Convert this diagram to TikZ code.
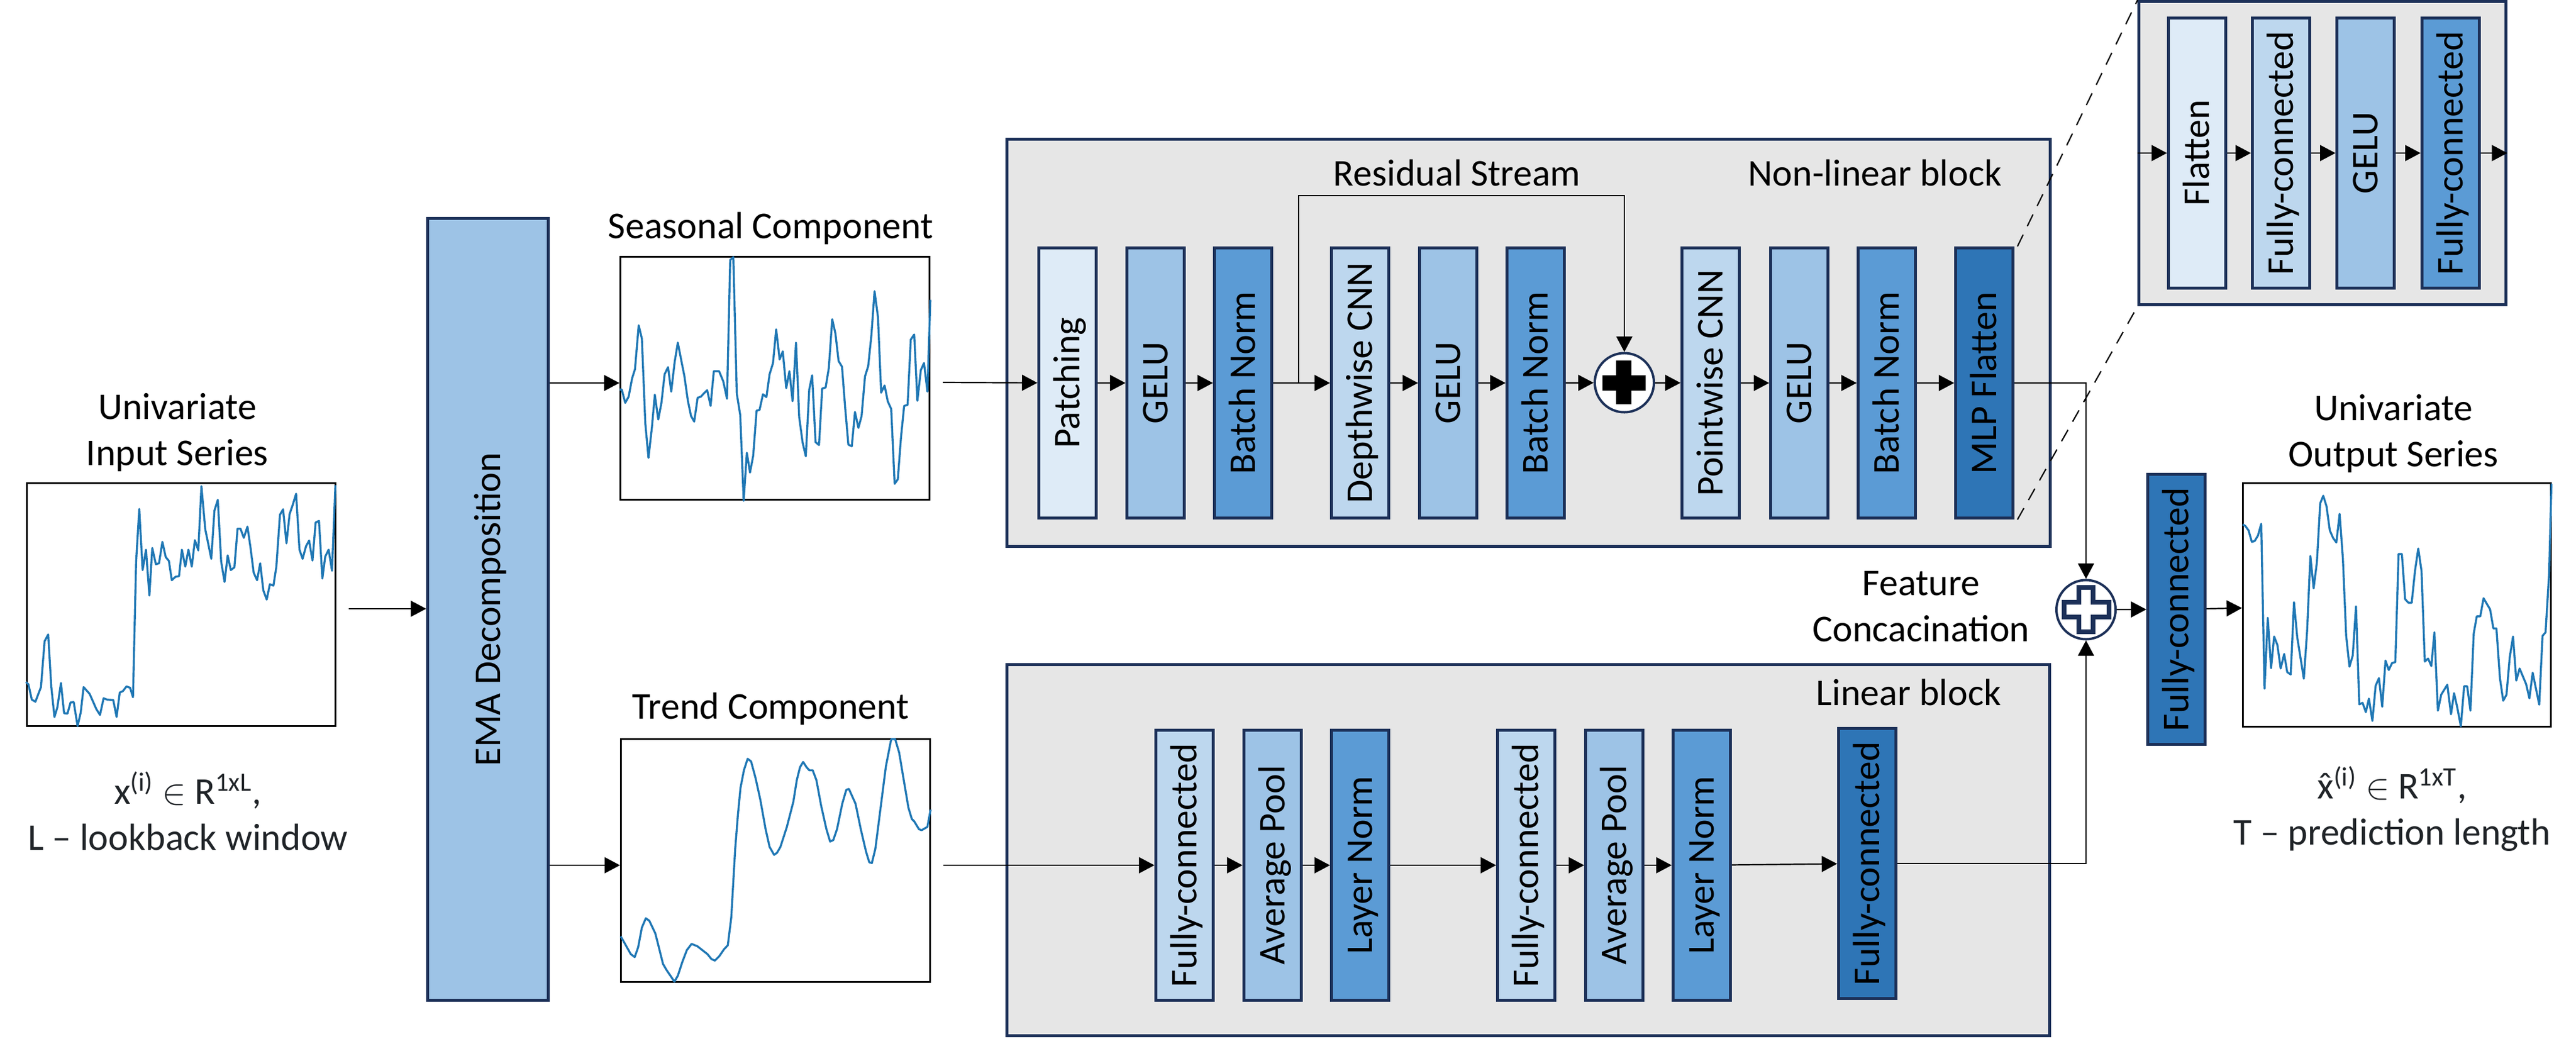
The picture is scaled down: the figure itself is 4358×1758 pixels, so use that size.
\documentclass[tikz,border=0pt]{standalone}
\usepackage{fontspec}
\setmainfont{Carlito}
\usetikzlibrary{arrows.meta,positioning}
\definecolor{navy}{HTML}{1C3058}
\definecolor{paleblue}{HTML}{DEEBF7}
\definecolor{lightblue}{HTML}{BDD7EE}
\definecolor{midblue}{HTML}{9DC3E6}
\definecolor{strongblue}{HTML}{5B9BD5}
\definecolor{deepblue}{HTML}{2E75B6}
\definecolor{blockgray}{HTML}{E6E6E6}
\definecolor{seriesblue}{HTML}{1F77B4}
\definecolor{notegray}{HTML}{202428}
\newcommand{\vtxt}[1]{\rotatebox{90}{\smash{#1}\vphantom{A}}}
\newcommand{\xhat}{\ooalign{x\cr\hidewidth\char"02C6\hidewidth\cr}}
\tikzset{
	every node/.style={font=\fontsize{18.2}{22.2}\selectfont},
	layerbox/.style={draw=navy,line width=.05cm,minimum width=.97cm,minimum height=4.57cm,inner sep=0pt},
	pale/.style={layerbox,fill=paleblue},
	light/.style={layerbox,fill=lightblue},
	mid/.style={layerbox,fill=midblue},
	strong/.style={layerbox,fill=strongblue},
	deep/.style={layerbox,fill=deepblue},
	block/.style={draw=navy,line width=.05cm,fill=blockgray,inner sep=0pt},
	plotbox/.style={draw=black,line width=.03cm,fill=white,inner sep=0pt},
	addnode/.style={circle,draw=navy,line width=.04cm,fill=white,minimum size=1cm,inner sep=0pt},
	arrow/.style={line width=.022cm,-{Triangle[length=.26cm,width=.27cm]}},
	series/.style={seriesblue,line width=.034cm,line join=round}
}

\begin{document}
\begin{tikzpicture}[x=.01cm,y=-.01cm]
	\useasboundingbox (0,0) rectangle (4358,1758);

	% grey blocks
	\node[block,minimum width=17.64cm,minimum height=6.89cm] (nonlinear) at (2585.5,580) {};
	\node[block,minimum width=17.63cm,minimum height=6.28cm] (linear) at (2585,1438.5) {};
	\node[block,minimum width=6.2cm,minimum height=5.13cm] (zoomblk) at (3929,259) {};

	% left part
	\node[plotbox,minimum width=5.22cm,minimum height=4.11cm] (input) at (306.5,1023) {};
	\node[mid,minimum width=2.04cm,minimum height=13.23cm] (ema) at (825.5,1031) {\vtxt{EMA Decomposition}};
	\node[plotbox,minimum width=5.23cm,minimum height=4.11cm] (seasonal) at (1311,640) {};
	\node[plotbox,minimum width=5.23cm,minimum height=4.11cm] (trend) at (1312,1456) {};
	\node[plotbox,minimum width=5.21cm,minimum height=4.12cm] (output) at (4055,1023.5) {};

	\node[align=center] (inlabel) at (300,732) {Univariate\\Input Series};
	\node[align=center,text=notegray] (innote) at (318,1372) {x\textsuperscript{(i)} $\in$ R\textsuperscript{1xL},\\L – lookback window};
	\node[anchor=base] (seaslabel) at (1304,403) {Seasonal Component};
	\node[anchor=base] (trendlabel) at (1304,1216) {Trend Component};
	\node[align=center] (outlabel) at (4049,734) {Univariate\\Output Series};
	\node[align=center,text=notegray] (outnote) at (4047,1369) {\xhat\textsuperscript{(i)} $\in$ R\textsuperscript{1xT},\\T – prediction length};

	% non-linear block
	\node[pale] (patch) at (1806,648) {\vtxt{Patching}};
	\node[mid] (gelu1) at (1955,648) {\vtxt{GELU}};
	\node[strong] (norm1) at (2103,648) {\vtxt{Batch Norm}};
	\node[light] (depth) at (2301,648) {\vtxt{Depthwise CNN}};
	\node[mid] (gelu2) at (2450,648) {\vtxt{GELU}};
	\node[strong] (norm2) at (2598,648) {\vtxt{Batch Norm}};
	\node[addnode] (resadd) at (2748,647.5) {};
	\node[light] (point) at (2894,648) {\vtxt{Pointwise CNN}};
	\node[mid] (gelu3) at (3044,648) {\vtxt{GELU}};
	\node[strong] (norm3) at (3192,648) {\vtxt{Batch Norm}};
	\node[deep] (mlp) at (3357,648) {\vtxt{MLP Flatten}};
	\node[anchor=base] (reslabel) at (2465,315) {Residual Stream};
	\node[anchor=base] (nllabel) at (3172,315) {Non-linear block};
	\fill (2734,610) rectangle (2760,684);
	\fill (2711,635) rectangle (2784,661);

	% linear block
	\node[light] (fc1) at (2004,1464) {\vtxt{Fully-connected}};
	\node[mid] (pool1) at (2153,1464) {\vtxt{Average Pool}};
	\node[strong] (lnorm1) at (2301,1464) {\vtxt{Layer Norm}};
	\node[light] (fc2) at (2582,1464) {\vtxt{Fully-connected}};
	\node[mid] (pool2) at (2731,1464) {\vtxt{Average Pool}};
	\node[strong] (lnorm2) at (2879,1464) {\vtxt{Layer Norm}};
	\node[deep] (fc3) at (3159,1461) {\vtxt{Fully-connected}};
	\node[anchor=base] (linlabel) at (3229,1193) {Linear block};

	% enlarged MLP
	\node[pale] (flat) at (3717,259) {\vtxt{Flatten}};
	\node[light] (fc4) at (3859,259) {\vtxt{Fully-connected}};
	\node[mid] (gelu4) at (4002,259) {\vtxt{GELU}};
	\node[strong] (fc5) at (4146,259) {\vtxt{Fully-connected}};

	% right part
	\node[addnode] (concat) at (3529,1031.5) {};
	\node[deep] (fcout) at (3682,1031) {\vtxt{Fully-connected}};
	\node[align=center] (conlabel) at (3250,1026) {Feature\\Concacination};
	\draw[navy,line width=.08cm,fill=white] (3517,994) -- (3541,994) -- (3541,1019) -- (3567.5,1019) -- (3567.5,1044) -- (3541,1044) -- (3541,1069) -- (3517,1069) -- (3517,1044) -- (3492,1044) -- (3492,1019) -- (3517,1019) -- cycle;

	% connectors
	\coordinate (inout) at (590,1030);
	\coordinate (seasout) at (1595,647);
	\coordinate (trendout) at (1596,1464);
	\coordinate (branch) at (2197,648);
	\coordinate (restop) at (2197,331);
	\draw[arrow] (inout) -- (ema.west |- inout);
	\draw[arrow] (ema.east |- patch) -- (seasonal.west |- patch);
	\draw[arrow] (ema.east |- fc1) -- (trend.west |- fc1);
	\draw[arrow] (seasout) -- (patch);
	\draw[arrow] (trendout) -- (fc1);
	\foreach \from/\to in {patch/gelu1,gelu1/norm1,norm1/depth,depth/gelu2,gelu2/norm2,norm2/resadd,resadd/point,point/gelu3,gelu3/norm3,norm3/mlp,fc1/pool1,pool1/lnorm1,lnorm1/fc2,fc2/pool2,pool2/lnorm2,lnorm2/fc3,flat/fc4,fc4/gelu4,gelu4/fc5,concat/fcout,fcout/output}
	\draw[arrow] (\from) -- (\to);
	\draw[arrow] (branch) -- (restop) -| (resadd.north);
	\draw[arrow] (mlp.east) -| (concat.north);
	\draw[arrow] (fc3.east) -| (concat.south);
	\draw[arrow] (zoomblk.west |- flat) -- (flat);
	\draw[arrow] (fc5) -- (zoomblk.east |- fc5);
	\draw[dashed,line width=.022cm,dash pattern=on .22cm off .16cm] ([xshift=.05cm]mlp.north east) -- (zoomblk.north west);
	\draw[dashed,line width=.022cm,dash pattern=on .22cm off .16cm] ([xshift=.05cm]mlp.south east) -- (zoomblk.south west);

	% series, typed in crop pixels
	\begin{scope}[shift={(0,600)},x=.00408cm,y=-.00574cm]
	\draw[series] plot coordinates {(108,965)(118,972)(132,1017)(147,1023)(170,980)(185,845)(200,825)(213,980)(226,1068)(238,1040)(253,968)(266,1057)(280,1058)(293,1025)(306,1024)(322,1095)(335,1055)(347,980)(372,1000)(400,1045)(415,1062)(430,1013)(445,1017)(470,1018)(484,1068)(497,996)(510,992)(525,978)(540,982)(552,1010)(565,610)(578,455)(592,635)(606,575)(620,710)(632,570)(647,618)(660,615)(674,552)(688,597)(701,608)(713,665)(728,655)(743,653)(755,575)(769,625)(782,575)(796,625)(809,547)(823,577)(836,388)(852,515)(877,602)(890,460)(904,428)(918,610)(932,670)(945,592)(958,635)(973,627)(986,513)(998,513)(1012,540)(1027,507)(1040,570)(1053,643)(1067,665)(1080,615)(1093,695)(1107,722)(1120,677)(1135,681)(1147,625)(1162,472)(1175,456)(1189,556)(1202,470)(1215,443)(1229,410)(1243,575)(1256,602)(1270,565)(1283,548)(1297,607)(1310,495)(1324,490)(1338,660)(1350,595)(1364,575)(1378,637)(1392,385)};
	\end{scope}
	\begin{scope}[shift={(1000,340)},x=.004464cm,y=-.003444cm]
	\draw[series] plot coordinates {(108,925)(116,925)(129,990)(142,960)(155,870)(166,825)(180,610)(192,675)(205,1090)(217,1260)(230,1110)(241,950)(254,1072)(266,990)(278,850)(291,815)(303,935)(316,790)(328,695)(340,775)(353,860)(366,980)(378,1055)(390,1082)(403,965)(415,960)(427,943)(439,928)(452,1005)(464,835)(484,835)(500,885)(514,970)(526,290)(538,275)(551,945)(564,1050)(577,1470)(589,1235)(601,1332)(613,1250)(626,1028)(637,1025)(650,948)(663,962)(675,850)(688,795)(700,630)(713,777)(725,738)(738,918)(750,835)(762,982)(775,695)(787,1060)(800,1185)(812,1252)(825,925)(836,855)(849,1183)(862,1197)(874,920)(887,915)(899,820)(912,580)(924,650)(936,785)(949,813)(961,1015)(973,1195)(986,1203)(998,1035)(1011,1113)(1023,1055)(1036,860)(1048,810)(1060,660)(1072,443)(1085,570)(1097,940)(1110,905)(1122,983)(1135,1020)(1148,1387)(1160,1365)(1172,1160)(1184,1005)(1197,1000)(1209,680)(1222,655)(1234,980)(1247,830)(1259,795)(1272,935)(1283,485)};
	\end{scope}
	\begin{scope}[shift={(1000,1220)},x=.004464cm,y=-.003333cm]
	\draw[series] plot coordinates {(112,1095)(125,1125)(150,1185)(165,1200)(178,1150)(192,1050)(207,1003)(220,1015)(243,1080)(258,1160)(272,1235)(285,1265)(315,1325)(328,1295)(345,1225)(362,1165)(380,1133)(402,1145)(440,1185)(455,1210)(468,1218)(485,1195)(503,1160)(517,1140)(530,1000)(545,650)(555,480)(565,340)(578,250)(592,192)(605,205)(622,290)(640,400)(660,550)(675,640)(692,680)(703,670)(716,640)(740,540)(765,410)(778,300)(790,235)(802,208)(815,235)(825,250)(838,250)(852,300)(870,430)(890,550)(904,613)(916,605)(930,550)(950,420)(965,350)(975,345)(1000,420)(1020,550)(1040,665)(1052,718)(1062,722)(1075,650)(1095,440)(1115,230)(1135,92)(1150,92)(1165,160)(1185,320)(1200,440)(1213,498)(1222,510)(1240,550)(1250,555)(1272,538)(1284,450)};
	\end{scope}
	\begin{scope}[shift={(3780,640)},x=.003686cm,y=-.005102cm]
	\draw[series] plot coordinates {(38,485)(50,490)(65,505)(80,543)(93,540)(108,522)(123,483)(138,1030)(153,795)(168,962)(182,857)(197,885)(212,963)(228,915)(242,975)(258,983)(273,743)(288,860)(318,997)(333,840)(348,590)(363,697)(378,610)(393,415)(407,390)(422,425)(437,505)(452,530)(467,545)(482,450)(497,600)(512,855)(527,957)(542,920)(557,757)(572,1082)(587,1077)(602,1108)(616,1063)(632,1137)(647,1020)(662,995)(677,1090)(692,937)(707,968)(722,945)(737,942)(752,583)(767,583)(782,733)(797,745)(812,745)(827,640)(842,565)(857,640)(872,940)(887,930)(902,955)(916,843)(932,1103)(947,1050)(975,1017)(992,1115)(1006,1045)(1020,1090)(1037,1155)(1052,1022)(1066,1022)(1081,1103)(1096,847)(1110,790)(1126,790)(1141,730)(1171,767)(1186,830)(1200,830)(1216,995)(1231,1070)(1246,1050)(1261,925)(1276,857)(1291,1003)(1306,963)(1336,1015)(1351,1062)(1366,977)(1396,1083)(1411,855)(1425,843)(1441,650)(1452,350)};
	\end{scope}
\end{tikzpicture}
\end{document}
